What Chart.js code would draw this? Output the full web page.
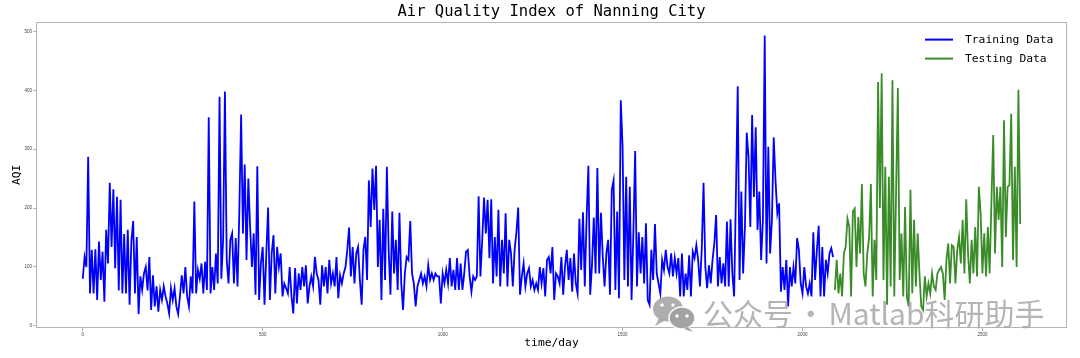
<!DOCTYPE html>
<html>
<head>
<meta charset="utf-8">
<script src="https://cdn.jsdelivr.net/npm/chart.js@4.4.1/dist/chart.umd.min.js"></script>
<style>
html,body{margin:0;padding:0;background:#fff;}
#wrap{width:1080px;height:358px;position:relative;}
</style>
</head>
<body>
<div id="wrap"><canvas id="c" width="1080" height="358"></canvas></div>
<script>
// ---------------- data ----------------
const TITLE = 'Air Quality Index of Nanning City';
const X_LABEL = 'time/day';
const Y_LABEL = 'AQI';
const SERIES_NAMES = ['Training Data', 'Testing Data'];
const WATERMARK = '公众号 · Matlab科研助手';
const STEP_DAYS = 5; // one reading every 5 days

const trainAQI = [
  80,117,100,287,55,129,55,130,44,143,78,126,41,163,106,243,134,232,98,219,
  60,214,55,156,55,163,36,143,178,55,151,20,84,61,89,100,60,117,27,86,
  33,67,24,61,44,67,50,38,21,64,44,64,33,20,50,86,55,100,50,33,
  84,55,211,55,95,
  80,106,55,109,61,354,55,100,61,123,72,389,80,146,398,112,72,146,157,72,
  149,67,194,359,157,274,112,250,168,100,157,53,271,44,106,134,36,123,201,44,
  123,154,55,134,100,123,50,72,64,55,100,50,21,98,38,89,61,100,67,103,
  38,67,84,67,117,89,78,
  36,103,67,100,55,112,72,89,67,117,47,86,72,89,100,129,167,84,134,72,
  123,134,78,36,129,151,78,247,168,267,197,272,100,180,44,199,78,270,129,53,
  194,89,146,61,192,72,27,89,117,112,178,89,72,33,67,78,89,72,84,67,
  103,78,89,78,89,84,
  84,38,89,72,95,72,115,67,95,61,115,61,106,61,89,126,129,84,58,84,
  78,84,220,84,146,218,157,214,115,215,72,151,84,197,67,146,89,191,67,146,
  123,67,129,159,201,53,84,106,67,89,98,67,78,61,72,61,100,72,98,50,
  112,117,89,134,44,89,84,
  72,117,53,100,129,78,115,58,123,72,55,182,95,193,67,182,272,53,103,184,
  89,268,89,192,117,67,123,146,53,231,247,61,194,47,383,305,78,253,67,236,
  44,157,297,67,159,89,151,72,174,44,36,129,78,173,89,72,55,112,95,129,
  100,89,123,84,115,89,115,
  50,123,50,89,61,120,50,126,115,137,112,67,129,243,100,64,103,72,112,140,
  188,67,117,72,106,67,177,67,181,89,50,225,407,78,228,89,168,328,287,168,
  358,219,337,163,228,112,180,493,106,304,123,180,320,247,191,208,58,100,61,112,
  33,100,67,100,72,149,
  129,72,55,100,67,55,72,50,159,78,129,170,50,134,50,112,89,123,132,117
];

const testAQI = [
  61,112,55,89,50,123,134,182,168,50,194,199,100,185,123,241,89,67,123,149,
  241,50,146,78,414,200,429,78,270,36,253,67,417,50,225,404,78,157,50,202,
  50,33,231,55,180,67,157,
  89,33,27,84,50,72,55,89,67,61,89,95,100,89,44,112,140,72,137,134,
  72,129,151,106,180,89,215,123,72,146,89,168,84,236,191,89,157,84,168,89,
  211,324,123,236,180,236,100,349,151,236,239,360,112,270,100,401,173
];

const xTicks = [0, 500, 1000, 1500, 2000, 2500];
const yTicks = [0, 100, 200, 300, 400, 500];

// ---------------- build ----------------
const TEST_START = trainAQI.length * STEP_DAYS;
const trainPts = trainAQI.map((v, i) => ({ x: i * STEP_DAYS, y: v }));
const testPts = testAQI.map((v, i) => ({ x: TEST_START + i * STEP_DAYS, y: v }));

const MONO = '"DejaVu Sans Mono", "Liberation Mono", monospace';
const FRAME = '#b4b4b4';

const framePlugin = {
  id: 'frame',
  afterDraw(chart) {
    const { ctx, chartArea: a } = chart;
    ctx.save();
    ctx.strokeStyle = FRAME;
    ctx.lineWidth = 1;
    ctx.strokeRect(Math.round(a.left) + 0.5, Math.round(a.top) + 0.5,
      Math.round(a.right - a.left) - 1, Math.round(a.bottom - a.top) - 1);
    ctx.restore();
  }
};

const legendPlugin = {
  id: 'insideLegend',
  afterDraw(chart) {
    const { ctx, chartArea: a } = chart;
    ctx.save();
    ctx.font = '11.3px ' + MONO;
    ctx.textBaseline = 'middle';
    ctx.fillStyle = '#000';
    chart.data.datasets.forEach((ds, i) => {
      const y = a.top + 18 + i * 19;
      ctx.strokeStyle = ds.borderColor;
      ctx.lineWidth = 2;
      ctx.beginPath();
      ctx.moveTo(a.right - 142, y);
      ctx.lineTo(a.right - 114, y);
      ctx.stroke();
      ctx.fillText(ds.label, a.right - 102, y);
    });
    ctx.restore();
  }
};

const watermarkPlugin = {
  id: 'watermark',
  afterDraw(chart) {
    const { ctx } = chart;
    ctx.save();
    // WeChat-like icon
    ctx.fillStyle = 'rgba(165,165,165,0.9)';
    ctx.beginPath(); ctx.ellipse(668, 309, 15, 12.5, 0, 0, Math.PI * 2); ctx.fill();
    ctx.beginPath(); ctx.moveTo(659, 318); ctx.lineTo(655, 326); ctx.lineTo(666, 320); ctx.fill();
    ctx.strokeStyle = '#fff'; ctx.lineWidth = 1.5;
    ctx.beginPath(); ctx.ellipse(682, 318, 13, 11, 0, 0, Math.PI * 2);
    ctx.fillStyle = 'rgba(160,160,160,0.97)'; ctx.fill(); ctx.stroke();
    ctx.beginPath(); ctx.moveTo(688, 327); ctx.lineTo(693, 332); ctx.lineTo(684, 329); ctx.fill();
    ctx.fillStyle = '#fff';
    [[662, 305], [673, 305], [677, 316], [687, 316]].forEach(([x, y]) => {
      ctx.beginPath(); ctx.arc(x, y, 1.7, 0, Math.PI * 2); ctx.fill();
    });
    // text
    ctx.fillStyle = 'rgba(170,170,170,0.88)';
    ctx.font = '30px "Noto Sans CJK SC", sans-serif';
    ctx.textBaseline = 'middle';
    ctx.textAlign = 'left';
    try { ctx.wordSpacing = '-4px'; } catch (e) {}
    ctx.fillText(WATERMARK, 703, 314);
    ctx.restore();
  }
};

const plainTick = v => String(v);

new Chart(document.getElementById('c'), {
  type: 'line',
  data: {
    datasets: [
      { label: SERIES_NAMES[0], data: trainPts, borderColor: '#0000ff', borderWidth: 1.8,
        pointRadius: 0, tension: 0, fill: false },
      { label: SERIES_NAMES[1], data: testPts, borderColor: '#3a8c28', borderWidth: 1.8,
        pointRadius: 0, tension: 0, fill: false }
    ]
  },
  options: {
    responsive: false,
    devicePixelRatio: 1,
    animation: false,
    parsing: false,
    layout: { padding: { left: 0, right: 13, top: 0, bottom: 0 } },
    plugins: {
      legend: { display: false },
      tooltip: { enabled: false },
      title: {
        display: true, text: TITLE, fullSize: false, color: '#000',
        font: { family: MONO, size: 15.5, weight: 'normal' },
        padding: { top: 3, bottom: 0 }
      }
    },
    scales: {
      x: {
        type: 'linear', min: -130, max: 2735,
        afterBuildTicks: s => { s.ticks = xTicks.map(v => ({ value: v })); },
        afterFit: s => { s.height = 30; },
        ticks: { font: { size: 4.5 }, color: '#444', padding: 1, maxRotation: 0, autoSkip: false,
          callback: plainTick },
        grid: { drawOnChartArea: false, drawTicks: true, tickLength: 3, color: FRAME },
        border: { display: false },
        title: { display: true, text: X_LABEL, color: '#000',
          font: { family: MONO, size: 11.3 }, padding: { top: 0, bottom: 8.4 } }
      },
      y: {
        type: 'linear', min: -3.6, max: 516.6,
        afterBuildTicks: s => { s.ticks = yTicks.map(v => ({ value: v })); },
        afterFit: s => { s.width = 36; },
        ticks: { font: { size: 4.5 }, color: '#444', padding: 1, autoSkip: false,
          callback: plainTick },
        grid: { drawOnChartArea: false, drawTicks: true, tickLength: 3, color: FRAME },
        border: { display: false },
        title: { display: true, text: Y_LABEL, color: '#000',
          font: { family: MONO, size: 11.3 }, padding: { top: 10.4, bottom: 0 } }
      }
    }
  },
  plugins: [framePlugin, legendPlugin, watermarkPlugin]
});
</script>
</body>
</html>
